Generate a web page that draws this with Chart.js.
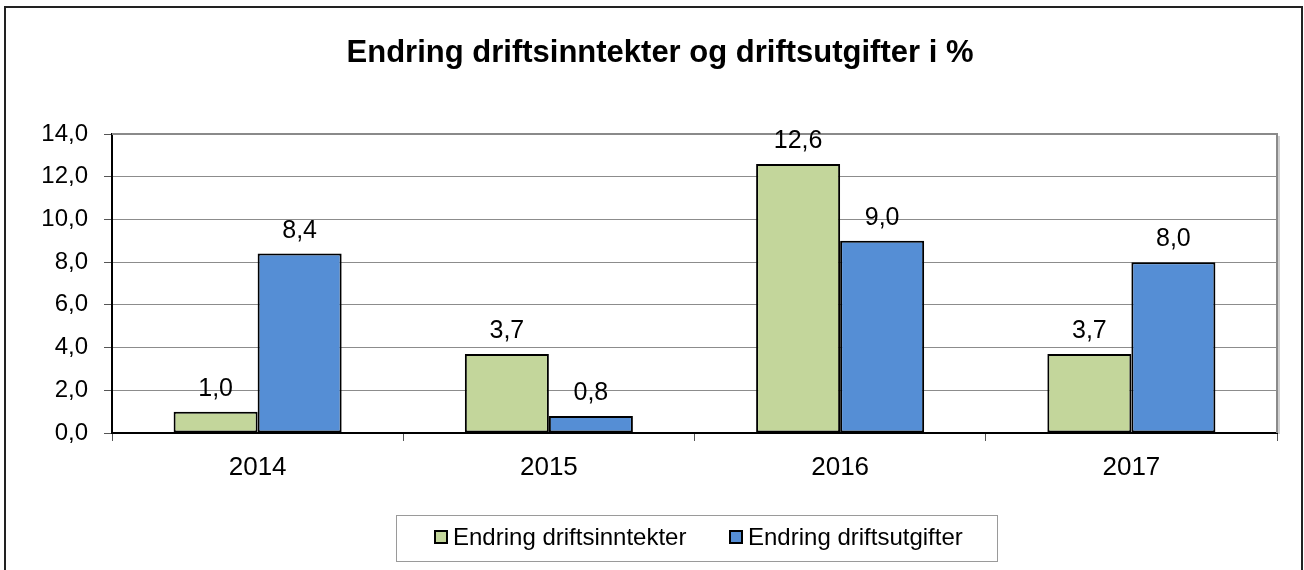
<!DOCTYPE html>
<html>
<head>
<meta charset="utf-8">
<script src="https://cdn.jsdelivr.net/npm/chart.js@4/dist/chart.umd.min.js"></script>
<style>
  html, body { margin: 0; padding: 0; background: #fff; }
  #wrap { width: 1304px; height: 570px; position: relative; }
</style>
</head>
<body>
<div id="wrap"><canvas id="chart" width="1304" height="570"></canvas></div>
<script>
const title = "Endring driftsinntekter og driftsutgifter i %";
const years = ["2014", "2015", "2016", "2017"];
const inntekter = [1.0, 3.7, 12.6, 3.7];
const utgifter = [8.4, 0.8, 9.0, 8.0];
const seriesNames = ["Endring driftsinntekter", "Endring driftsutgifter"];
const yTicks = [0, 2, 4, 6, 8, 10, 12, 14];

const FONT = "'Liberation Sans', Arial, sans-serif";
const green = "#C3D69B";
const blue = "#558ED5";

const fmt = (v) => v.toFixed(1).replace(".", ",");

// frame, title, plot border, value labels and the boxed legend
const decor = {
  id: "decor",
  beforeDraw(chart) {
    const ctx = chart.ctx;
    ctx.save();
    ctx.fillStyle = "#fff";
    ctx.fillRect(0, 0, chart.width, chart.height);
    ctx.strokeStyle = "#222";
    ctx.lineWidth = 2;
    ctx.strokeRect(5, 7, 1297, 580);
    ctx.fillStyle = "#000";
    ctx.font = "bold 31px " + FONT;
    ctx.textAlign = "center";
    ctx.textBaseline = "middle";
    ctx.fillText(title, 660, 53);
    ctx.restore();
  },
  beforeDatasetsDraw(chart) {
    const a = chart.chartArea;
    const ctx = chart.ctx;
    ctx.save();
    ctx.strokeStyle = "#d0d0d0";
    ctx.lineWidth = 2;
    ctx.beginPath();
    ctx.moveTo(a.right + 2, a.top + 2);
    ctx.lineTo(a.right + 2, a.bottom + 1);
    ctx.stroke();
    ctx.strokeStyle = "#8a8a8a";
    ctx.lineWidth = 2;
    ctx.beginPath();
    ctx.moveTo(a.left, a.top);
    ctx.lineTo(a.right, a.top);
    ctx.lineTo(a.right, a.bottom);
    ctx.stroke();
    ctx.restore();
  },
  afterDraw(chart) {
    const ctx = chart.ctx;
    ctx.save();
    ctx.fillStyle = "#000";
    ctx.font = "25px " + FONT;
    ctx.textAlign = "center";
    ctx.textBaseline = "alphabetic";
    chart.data.datasets.forEach((ds, i) => {
      chart.getDatasetMeta(i).data.forEach((bar, j) => {
        ctx.fillText(fmt(ds.data[j]), bar.x, bar.y - 16);
      });
    });

    // legend
    ctx.font = "24px " + FONT;
    ctx.strokeStyle = "#9a9a9a";
    ctx.lineWidth = 1;
    ctx.strokeRect(396.5, 515.5, 601, 46);
    const items = [
      { x: 435, color: green, text: seriesNames[0] },
      { x: 730, color: blue, text: seriesNames[1] }
    ];
    ctx.textAlign = "left";
    ctx.textBaseline = "middle";
    items.forEach((it) => {
      ctx.fillStyle = it.color;
      ctx.fillRect(it.x, 531, 12, 12);
      ctx.strokeStyle = "#000";
      ctx.lineWidth = 2;
      ctx.strokeRect(it.x, 531, 12, 12);
      ctx.fillStyle = "#000";
      ctx.fillText(it.text, it.x + 18, 538);
    });
    ctx.restore();
  }
};

new Chart(document.getElementById("chart"), {
  type: "bar",
  data: {
    labels: years,
    datasets: [
      {
        label: seriesNames[0],
        data: inntekter,
        backgroundColor: green,
        borderColor: "#000",
        borderWidth: 2,
        borderSkipped: false,
        categoryPercentage: 0.577,
        barPercentage: 1.0
      },
      {
        label: seriesNames[1],
        data: utgifter,
        backgroundColor: blue,
        borderColor: "#000",
        borderWidth: 2,
        borderSkipped: false,
        categoryPercentage: 0.577,
        barPercentage: 1.0
      }
    ]
  },
  options: {
    responsive: false,
    animation: false,
    layout: { padding: { left: 0, top: 134, right: 27, bottom: 77 } },
    plugins: {
      legend: { display: false },
      title: { display: false },
      tooltip: { enabled: false }
    },
    scales: {
      x: {
        afterFit: (s) => { s.height = 60; },
        grid: {
          offset: true,
          drawOnChartArea: false,
          drawTicks: true,
          tickLength: 8,
          tickColor: "#555"
        },
        border: { color: "#000", width: 2 },
        ticks: {
          color: "#000",
          padding: 11,
          font: { family: FONT, size: 26 }
        }
      },
      y: {
        min: 0,
        max: 14,
        afterFit: (s) => { s.width = 112; },
        afterBuildTicks: (s) => { s.ticks = yTicks.map((v) => ({ value: v })); },
        grid: {
          color: "#8c8c8c",
          lineWidth: 1,
          tickLength: 8,
          tickColor: "#555"
        },
        border: { color: "#000", width: 2 },
        ticks: {
          color: "#000",
          padding: 16,
          font: { family: FONT, size: 24 },
          callback: (v) => fmt(v)
        }
      }
    }
  },
  plugins: [decor]
});
</script>
</body>
</html>
